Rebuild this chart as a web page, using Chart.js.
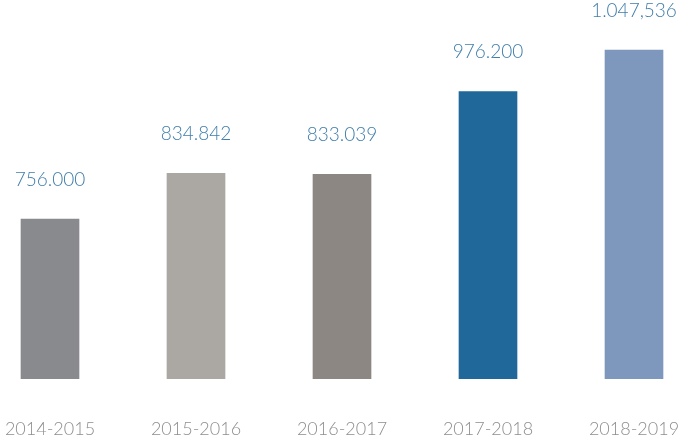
<!DOCTYPE html>
<html lang="fr">
<head>
    <meta charset="UTF-8">
    <title>Graphique en barres</title>
    <style>
        html, body {
            margin: 0;
            background-color: #fff;
            overflow: hidden;
            width: 679px;
            height: 444px;
        }

        .cadre {
            position: relative;
            width: 679px;
            height: 444px;
            overflow: hidden;
        }

        /* le canvas déborde un peu pour avoir l'espacement des barres */
        #myChart {
            position: absolute;
            top: 0;
            left: -23px;
        }
    </style>
</head>
<body>
<div class="cadre">
    <canvas id="myChart" width="730" height="444"></canvas>
</div>

<script src="https://cdn.jsdelivr.net/npm/chart.js"></script>

<script>
    // Données du graphique
    const saisons = ['2014-2015', '2015-2016', '2016-2017', '2017-2018', '2018-2019'];
    const valeurs = [756000, 834842, 833039, 976200, 1047536];
    const etiquettes = ['756.000', '834.842', '833.039', '976.200', '1.047,536'];
    const couleurs = ['#898a8e', '#aba7a3', '#8c8783', '#20679a', '#7e98bd'];

    // Texte au-dessus des barres
    const valeurPlugin = {
        id: 'valeurPlugin',
        afterDatasetsDraw(chart) {
            const ctx = chart.ctx;
            const meta = chart.getDatasetMeta(0);
            ctx.save();
            ctx.font = '300 19px Lato';
            ctx.fillStyle = '#3f7dab';
            ctx.textAlign = 'center';
            ctx.textBaseline = 'alphabetic';
            meta.data.forEach((bar, i) => {
                ctx.fillText(etiquettes[i], bar.x, bar.y - 33);
            });
            ctx.restore();
        }
    };

    const ctx = document.getElementById('myChart');

    new Chart(ctx, {
        type: 'bar',
        data: {
            labels: saisons,
            datasets: [{
                data: valeurs,
                backgroundColor: couleurs,
                barThickness: 58,
                borderWidth: 0
            }]
        },
        options: {
            responsive: false,
            animation: false,
            layout: {
                padding: { top: 40, bottom: 3, left: 0, right: 0 }
            },
            plugins: {
                legend: { display: false },
                tooltip: { enabled: false }
            },
            scales: {
                x: {
                    grid: { display: false, drawTicks: true, tickLength: 39 },
                    border: { display: false },
                    ticks: {
                        color: '#8e8e8e',
                        padding: 0,
                        maxRotation: 0,
                        font: { family: 'Lato', size: 18, weight: 300 }
                    },
                    afterFit(scale) {
                        // pas de marge sur les côtés, hauteur fixe
                        scale.paddingLeft = 0;
                        scale.paddingRight = 0;
                        scale.height = 62;
                    }
                },
                y: {
                    display: false,
                    min: 480000,
                    max: 1065000
                }
            }
        },
        plugins: [valeurPlugin]
    });
</script>
</body>
</html>
